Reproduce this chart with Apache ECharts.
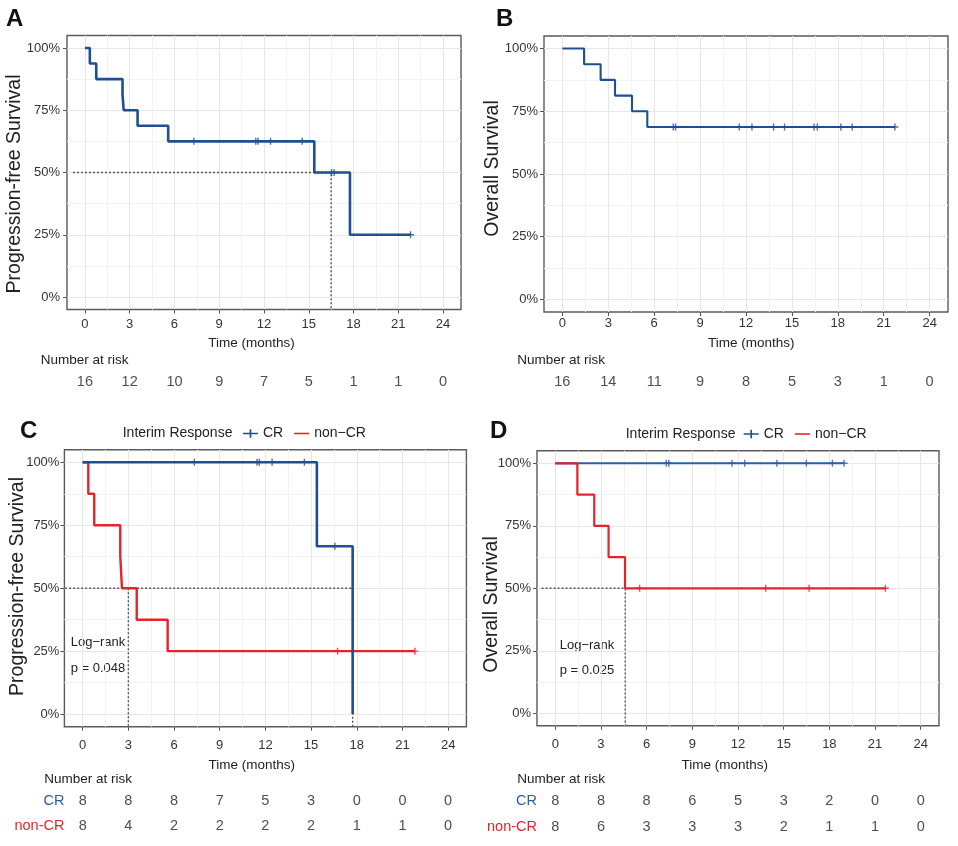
<!DOCTYPE html>
<html>
<head>
<meta charset="utf-8">
<script src="https://cdn.jsdelivr.net/npm/echarts@6/dist/echarts.min.js"></script>
<style>
html,body{margin:0;padding:0;background:#fff;}
#chart{width:958px;height:846px;}
</style>
</head>
<body>
<div id="chart"></div>
<script>
// ---------------- DATA ----------------
const timeTicks = [0, 3, 6, 9, 12, 15, 18, 21, 24];
const timeMinor = [1.5, 4.5, 7.5, 10.5, 13.5, 16.5, 19.5, 22.5];
const survTicks = [0, 0.25, 0.5, 0.75, 1];
const survMinor = [0.125, 0.375, 0.625, 0.875];

// A: Progression-free survival, all patients
const pfsAllTime = [0, 0.33, 0.76, 2.52, 2.6, 3.53, 5.58, 15.37, 17.76, 21.82];
const pfsAllSurv = [1, 0.9375, 0.875, 0.8125, 0.75, 0.6875, 0.625, 0.5, 0.25, 0.25];
const pfsAllCensorTime = [7.3, 11.45, 11.6, 12.44, 14.56, 16.53, 16.7, 21.82];
const pfsAllCensorSurv = [0.625, 0.625, 0.625, 0.625, 0.625, 0.5, 0.5, 0.25];
const pfsAllMedian = 16.5;
const pfsAllRisk = [16, 12, 10, 9, 7, 5, 1, 1, 0];

// B: Overall survival, all patients
const osAllTime = [0, 1.42, 2.5, 3.44, 4.55, 5.55, 21.73];
const osAllSurv = [1, 0.9375, 0.875, 0.8125, 0.75, 0.6875, 0.6875];
const osAllCensorTime = [7.25, 7.4, 11.56, 12.39, 13.8, 14.52, 16.44, 16.66, 18.2, 18.94, 21.73];
const osAllCensorSurv = [0.6875, 0.6875, 0.6875, 0.6875, 0.6875, 0.6875, 0.6875, 0.6875, 0.6875, 0.6875, 0.6875];
const osAllRisk = [16, 14, 11, 9, 8, 5, 3, 1, 0];

// C: PFS by interim response
const pfsCrTime = [0, 15.38, 17.73];
const pfsCrSurv = [1, 0.6667, 0];
const pfsCrCensorTime = [7.33, 11.45, 11.6, 12.44, 14.56, 16.56];
const pfsCrCensorSurv = [1, 1, 1, 1, 1, 0.6667];
const pfsNonTime = [0, 0.37, 0.76, 2.47, 2.58, 3.55, 5.58, 21.82];
const pfsNonSurv = [1, 0.875, 0.75, 0.625, 0.5, 0.375, 0.25, 0.25];
const pfsNonCensorTime = [16.74, 21.82];
const pfsNonCensorSurv = [0.25, 0.25];
const pfsCrMedian = 17.73;
const pfsNonMedian = 3.0;
const pfsCrRisk = [8, 8, 8, 7, 5, 3, 0, 0, 0];
const pfsNonRisk = [8, 4, 2, 2, 2, 2, 1, 1, 0];
const pfsPText = ['Log\u2212rank', 'p = 0.048'];

// D: OS by interim response
const osCrTime = [0, 18.97];
const osCrSurv = [1, 1];
const osCrCensorTime = [7.29, 7.45, 11.61, 12.44, 14.55, 16.49, 18.2, 18.97];
const osCrCensorSurv = [1, 1, 1, 1, 1, 1, 1, 1];
const osNonTime = [0, 1.45, 2.56, 3.5, 4.58, 21.68];
const osNonSurv = [1, 0.875, 0.75, 0.625, 0.5, 0.5];
const osNonCensorTime = [5.54, 13.82, 16.67, 21.68];
const osNonCensorSurv = [0.5, 0.5, 0.5, 0.5];
const osNonMedian = 4.6;
const osCrRisk = [8, 8, 8, 6, 5, 3, 2, 0, 0];
const osNonRisk = [8, 6, 3, 3, 3, 2, 1, 1, 0];
const osPText = ['Log\u2212rank', 'p = 0.025'];

const groupNames = ['CR', 'non\u2212CR'];
const riskRowNames = ['CR', 'non-CR'];

// ---------------- STYLE / LAYOUT ----------------
const FONT = "'Liberation Sans', Arial, Helvetica, sans-serif";
const BLUE = '#1e4f92';
const BLUE2 = '#2a5ea6';
const RED = '#e3242b';
const XMIN = -1.2, XMAX = 25.2, YMIN = -0.05, YMAX = 1.05;

const panels = [
  {left: 67, top: 35.5, width: 394, height: 274, xm: 8, ym: 7},
  {left: 544, top: 36, width: 404, height: 276, xm: 5, ym: 6},
  {left: 64.4, top: 449.7, width: 402, height: 277, xm: 12, ym: 5},
  {left: 537, top: 450.8, width: 402, height: 275, xm: 12, ym: 6}
];
const riskGrids = [
  {left: 67, top: 372, width: 394, height: 20},
  {left: 544, top: 372, width: 404, height: 20},
  {left: 64.4, top: 788, width: 402, height: 51},
  {left: 537, top: 787.5, width: 402, height: 52}
];

const grid = [], xAxis = [], yAxis = [], series = [];

panels.forEach((p, i) => {
  grid.push({left: p.left, top: p.top, width: p.width, height: p.height, show: true,
    borderColor: '#5a5a5a', borderWidth: 1.4, backgroundColor: '#fff', containLabel: false});
  xAxis.push({gridIndex: i, type: 'value', min: XMIN, max: XMAX, position: 'bottom',
    axisLine: {show: false, onZero: false},
    axisTick: {show: true, customValues: timeTicks, length: 4, lineStyle: {color: '#555', width: 1}},
    axisLabel: {customValues: timeTicks, margin: p.xm, fontSize: 13, color: '#333', fontFamily: FONT},
    splitLine: {show: true, lineStyle: {color: '#e6e6e6', width: 1}}
  });
  xAxis.push({gridIndex: i, type: 'value', min: XMIN, max: XMAX, position: 'top',
    axisLine: {show: false, onZero: false},
    axisTick: {show: false, customValues: timeMinor},
    axisLabel: {show: false, customValues: timeMinor},
    splitLine: {show: true, lineStyle: {color: '#f2f2f2', width: 1}}
  });
  yAxis.push({gridIndex: i, type: 'value', min: YMIN, max: YMAX, position: 'left',
    axisLine: {show: false, onZero: false},
    axisTick: {show: true, customValues: survTicks, length: 4, lineStyle: {color: '#555', width: 1}},
    axisLabel: {customValues: survTicks, margin: p.ym, fontSize: 13, color: '#333', fontFamily: FONT,
      formatter: v => Math.round(v * 100) + '%'},
    splitLine: {show: true, lineStyle: {color: '#e6e6e6', width: 1}}
  });
  yAxis.push({gridIndex: i, type: 'value', min: YMIN, max: YMAX, position: 'right',
    axisLine: {show: false, onZero: false},
    axisTick: {show: false, customValues: survMinor},
    axisLabel: {show: false, customValues: survMinor},
    splitLine: {show: true, lineStyle: {color: '#f2f2f2', width: 1}}
  });
});

riskGrids.forEach((g, k) => {
  const gi = 4 + k;
  grid.push({left: g.left, top: g.top, width: g.width, height: g.height, show: false});
  xAxis.push({gridIndex: gi, type: 'value', min: XMIN, max: XMAX, show: false});
  const two = k >= 2;
  yAxis.push({gridIndex: gi, type: 'category', inverse: true,
    data: two ? riskRowNames : ['all'],
    axisLine: {show: false}, axisTick: {show: false}, splitLine: {show: false},
    axisLabel: {show: two, margin: 0, fontSize: 14.5, fontFamily: FONT,
      color: (v) => v === 'CR' ? BLUE2 : RED}
  });
});

const PLUS = 'path://M-0.8,-4H0.8V-0.8H4V0.8H0.8V4H-0.8V0.8H-4V-0.8H-0.8Z';
const CRICON = 'path://M0,4.2H6.2V1H7.8V4.2H14V5.8H7.8V9H6.2V5.8H0Z';
const LINEICON = 'path://M0,4.2H15V5.8H0Z';

function curve(p, name, times, survs, color, width) {
  series.push({type: 'line', name: name, xAxisIndex: p * 2, yAxisIndex: p * 2, step: 'end',
    data: times.map((t, i) => [t, survs[i]]), showSymbol: false, symbol: 'none',
    lineStyle: {color: color, width: width}, itemStyle: {color: color}, z: 4, animation: false});
}
function censors(p, name, times, survs, color) {
  series.push({type: 'scatter', name: name + ' censor', xAxisIndex: p * 2, yAxisIndex: p * 2,
    symbol: PLUS, symbolSize: 7, itemStyle: {color: color}, z: 5, animation: false,
    data: times.map((t, i) => [t, survs[i]])});
}
function dotted(p, pts) {
  series.push({type: 'line', name: 'median', xAxisIndex: p * 2, yAxisIndex: p * 2,
    data: pts, showSymbol: false, symbol: 'none', z: 3, animation: false,
    lineStyle: {color: '#555', width: 1.4, type: [2, 2]}});
}
function risk(k, row, vals) {
  series.push({type: 'scatter', name: 'risk' + k + row, xAxisIndex: 8 + k, yAxisIndex: 8 + k,
    symbolSize: 1, itemStyle: {color: 'rgba(0,0,0,0)'}, animation: false,
    label: {show: true, position: 'inside', formatter: q => String(q.value[2]),
      fontSize: 14.5, color: '#222', fontFamily: FONT},
    labelLayout: {hideOverlap: false},
    data: timeTicks.map((t, i) => [t, row, vals[i]])});
}

// A
dotted(0, [[-0.8, 0.5], [pfsAllMedian, 0.5], [pfsAllMedian, YMIN]]);
curve(0, 'PFS all', pfsAllTime, pfsAllSurv, BLUE, 2.6);
censors(0, 'PFS all', pfsAllCensorTime, pfsAllCensorSurv, BLUE);
risk(0, 'all', pfsAllRisk);
// B
curve(1, 'OS all', osAllTime, osAllSurv, BLUE, 2.1);
censors(1, 'OS all', osAllCensorTime, osAllCensorSurv, BLUE);
risk(1, 'all', osAllRisk);
// C
dotted(2, [[-1.15, 0.5], [pfsCrMedian, 0.5], [pfsCrMedian, YMIN]]);
dotted(2, [[pfsNonMedian, 0.5], [pfsNonMedian, YMIN]]);
curve(2, groupNames[1], pfsNonTime, pfsNonSurv, RED, 2.4);
censors(2, 'PFS non', pfsNonCensorTime, pfsNonCensorSurv, RED);
curve(2, groupNames[0], pfsCrTime, pfsCrSurv, BLUE, 2.6);
censors(2, 'PFS CR', pfsCrCensorTime, pfsCrCensorSurv, BLUE);
risk(2, 'CR', pfsCrRisk);
risk(2, 'non-CR', pfsNonRisk);
// D
dotted(3, [[-0.9, 0.5], [osNonMedian, 0.5], [osNonMedian, YMIN]]);
curve(3, groupNames[0], osCrTime, osCrSurv, BLUE2, 2);
censors(3, 'OS CR', osCrCensorTime, osCrCensorSurv, BLUE2);
curve(3, groupNames[1], osNonTime, osNonSurv, RED, 2.2);
censors(3, 'OS non', osNonCensorTime, osNonCensorSurv, RED);
risk(3, 'CR', osCrRisk);
risk(3, 'non-CR', osNonRisk);

function legendAt(left, top) {
  return {left: left, top: top, padding: 0, orient: 'horizontal', selectedMode: false,
    itemWidth: 15, itemHeight: 10, itemGap: 11,
    textStyle: {fontSize: 14, color: '#222', fontFamily: FONT},
    data: [{name: groupNames[0], icon: CRICON}, {name: groupNames[1], icon: LINEICON}]};
}

function txt(x, y, s, opt) {
  opt = opt || {};
  return {type: 'text', x: x, y: y, rotation: opt.rot || 0, silent: true,
    style: {text: s, fill: opt.color || '#222', fontSize: opt.size || 13, fontFamily: FONT,
      fontWeight: opt.weight || 'normal', textAlign: opt.align || 'left', textVerticalAlign: 'middle'}};
}

const graphics = [
  txt(6, 19, 'A', {size: 24, weight: 'bold', color: '#111'}),
  txt(496, 19, 'B', {size: 24, weight: 'bold', color: '#111'}),
  txt(20, 431, 'C', {size: 24, weight: 'bold', color: '#111'}),
  txt(490, 431.5, 'D', {size: 24, weight: 'bold', color: '#111'}),
  txt(15, 184, 'Progression-free Survival', {size: 19.5, align: 'center', rot: Math.PI / 2}),
  txt(493, 168.5, 'Overall Survival', {size: 19.5, align: 'center', rot: Math.PI / 2}),
  txt(18, 586.5, 'Progression-free Survival', {size: 19.5, align: 'center', rot: Math.PI / 2}),
  txt(491.5, 604.5, 'Overall Survival', {size: 19.5, align: 'center', rot: Math.PI / 2}),
  txt(251.5, 343.3, 'Time (months)', {size: 13.5, align: 'center'}),
  txt(751.3, 343.3, 'Time (months)', {size: 13.5, align: 'center'}),
  txt(251.7, 765, 'Time (months)', {size: 13.5, align: 'center'}),
  txt(724.7, 765, 'Time (months)', {size: 13.5, align: 'center'}),
  txt(40.7, 360, 'Number at risk', {size: 13.5}),
  txt(517.3, 360, 'Number at risk', {size: 13.5}),
  txt(44.3, 779.3, 'Number at risk', {size: 13.5}),
  txt(517.3, 779.3, 'Number at risk', {size: 13.5}),
  txt(122.7, 433.3, 'Interim Response', {size: 14}),
  txt(625.7, 434, 'Interim Response', {size: 14}),
  txt(70.7, 642.7, pfsPText[0], {size: 13}),
  txt(70.7, 668.3, pfsPText[1], {size: 13}),
  txt(559.7, 645, osPText[0], {size: 13}),
  txt(559.7, 670, osPText[1], {size: 13})
];

const chart = echarts.init(document.getElementById('chart'), null, {renderer: 'canvas'});
chart.setOption({
  animation: false,
  backgroundColor: '#fff',
  grid: grid, xAxis: xAxis, yAxis: yAxis, series: series,
  legend: [legendAt(243, 426.5), legendAt(743.7, 427)],
  graphic: graphics
});
</script>
</body>
</html>
